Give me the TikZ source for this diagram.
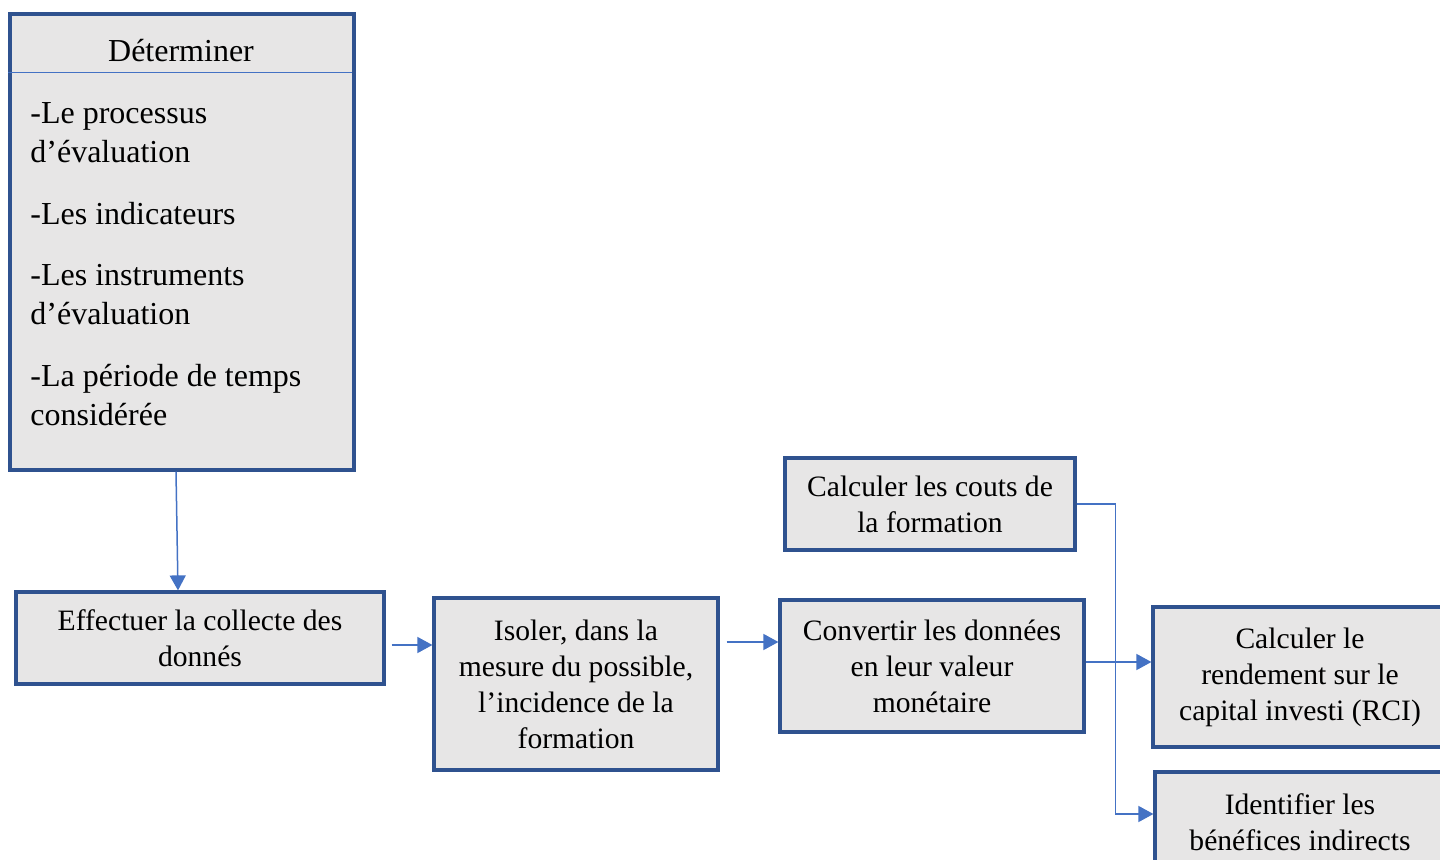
\documentclass[tikz,border=0pt]{standalone}
\usepackage{fontspec}
\setmainfont{Liberation Serif}
\usepackage{xcolor}
\usepackage{tikz}
\usetikzlibrary{arrows.meta,calc}

\definecolor{boxline}{HTML}{2F528F}
\definecolor{boxfill}{HTML}{E7E6E6}
\definecolor{arrowblue}{HTML}{4472C4}

\tikzset{
  box/.style={draw=boxline, fill=boxfill, line width=1.6pt, align=center, inner sep=0pt,
              font={\fontsize{14.8pt}{18pt}\selectfont}},
  listtext/.style={anchor=base west, align=left, inner sep=0pt,
              font={\fontsize{16pt}{19.5pt}\selectfont}},
  arr/.style={draw=arrowblue, line width=0.75pt, -{Triangle[width=8pt,length=7.5pt]}},
  sepline/.style={draw=arrowblue, line width=0.6pt}
}

\begin{document}
\begin{tikzpicture}[x=0.5pt, y=-0.5pt]
        \useasboundingbox (0,0) rectangle (1440,860);
        \clip (0,0) rectangle (1440,860);

        % Big box on the left with its title and list
        \node[box, minimum width=172pt, minimum height=228pt] (det) at (182,242) {};
        \draw[sepline] ($(det.north west)+(0,-30pt)$) -- ($(det.north east)+(-2pt,-30pt)$);
        \node[inner sep=0pt, font={\fontsize{16pt}{19.5pt}\selectfont}] (dethead) at (181,51) {Déterminer};
        % (base of a two-line text is its last line)
        \node[listtext] (itemA) at (30,163) {-Le processus\\d’évaluation};
        \node[listtext] (itemB) at (30,225) {-Les indicateurs};
        \node[listtext] (itemC) at (30,325) {-Les instruments\\d’évaluation};
        \node[listtext] (itemD) at (30,426) {-La période de temps\\considérée};

        % Steps of the chain
        \node[box, minimum width=184pt, minimum height=46pt] (collect) at (200,638) {Effectuer la collecte des\\donnés};
        \node[box, minimum width=142pt, minimum height=86pt] (isoler) at (576,684) {Isoler, dans la\\mesure du possible,\\l’incidence de la\\formation};
        \node[box, minimum width=152pt, minimum height=66pt] (convert) at (932,666) {Convertir les données\\en leur valeur\\monétaire};
        \node[box, minimum width=145pt, minimum height=46pt] (couts) at (930,504) {Calculer les couts de\\la formation};
        \node[box, minimum width=147pt, minimum height=70pt] (rci) at (1300,677) {Calculer le\\rendement sur le\\capital investi (RCI)};
        \node[box, minimum width=145pt, minimum height=50pt] (indirect) at (1300,822) {Identifier les\\bénéfices indirects};

        % Arrows
        \draw[arr] ([xshift=-3pt]det.south) -- ([xshift=-11pt]collect.north);
        \draw[arr] ($(collect.east)+(3pt,-3.5pt)$) -- ($(collect.east -| isoler.west)+(0,-3.5pt)$);
        \draw[arr] ($(isoler.east |- convert.west)+(3.5pt,12pt)$) -- ($(convert.west)+(0,12pt)$);
        \draw[arr] ($(convert.east)+(0,2pt)$) -- ($(convert.east -| rci.west)+(0,2pt)$);
        \draw[arr] (couts.east) -- ++(19.5pt,0) |- ($(indirect.west)+(0,4pt)$);
    \end{tikzpicture}
\end{document}
